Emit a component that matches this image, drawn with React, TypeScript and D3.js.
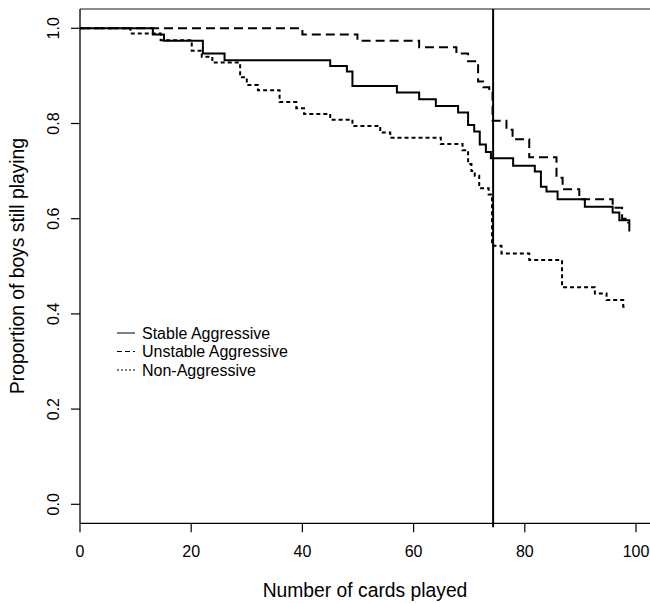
import { useEffect, useRef } from "react";
import * as d3 from "d3";

// Kaplan-Meier style curves
const stableTimes = [0, 13.1, 15.1, 22.1, 26.0, 45.0, 48.0, 49.0, 57.0, 61.0, 64.0, 68.0, 69.8, 70.9, 71.9, 73.0, 73.9, 77.9, 81.8, 82.9, 83.9, 85.9, 90.8, 95.8, 97.0, 98.8];
const stableSurv = [1.0, 0.987, 0.974, 0.947, 0.933, 0.921, 0.909, 0.879, 0.865, 0.851, 0.837, 0.823, 0.797, 0.783, 0.756, 0.740, 0.727, 0.711, 0.699, 0.667, 0.657, 0.641, 0.625, 0.613, 0.597, 0.573];

const unstableTimes = [0, 40.0, 49.9, 61.0, 67.7, 69.8, 71.6, 72.5, 73.6, 74.2, 76.7, 77.8, 80.8, 85.7, 86.8, 89.8, 95.8, 97.5, 98.6];
const unstableSurv = [1.0, 0.987, 0.974, 0.960, 0.947, 0.931, 0.888, 0.876, 0.867, 0.806, 0.787, 0.767, 0.729, 0.686, 0.662, 0.641, 0.623, 0.600, 0.590];

const nonTimes = [0, 9.1, 14.5, 20.1, 21.9, 23.8, 28.8, 30.0, 32.0, 35.9, 38.9, 40.3, 45.0, 49.0, 54.0, 55.8, 64.9, 68.8, 69.8, 70.4, 71.0, 71.8, 73.5, 74.1, 75.8, 80.8, 86.7, 92.6, 94.7, 97.7, 98.1];
const nonSurv = [1.0, 0.989, 0.975, 0.953, 0.940, 0.928, 0.897, 0.881, 0.870, 0.845, 0.832, 0.820, 0.808, 0.795, 0.781, 0.770, 0.757, 0.744, 0.715, 0.700, 0.690, 0.664, 0.651, 0.543, 0.527, 0.513, 0.456, 0.443, 0.429, 0.415, 0.415];

const groupNames = ["Stable Aggressive", "Unstable Aggressive", "Non-Aggressive"];
const xTicks = [0, 20, 40, 60, 80, 100];
const yTicks = [0, 0.2, 0.4, 0.6, 0.8, 1.0];
const cutoff = 74.3;

const App = () => {
  const svgRef = useRef<SVGSVGElement>(null);

  const width = 650;
  const height = 603;

  useEffect(() => {
    if (!svgRef.current) return;
    const svg = d3.select(svgRef.current);
    svg.selectAll("*").remove();

    const font = "Liberation Sans, Arial, Helvetica, sans-serif";
    const x = d3.scaleLinear().domain([0, 100]).range([80, 636]);
    const y = d3.scaleLinear().domain([0, 1]).range([504.3, 28.3]);
    const left = 80, top = 9, bottom = 523.3, right = 650;

    // frame
    svg.append("line").attr("x1", left).attr("x2", right).attr("y1", top).attr("y2", top)
      .attr("stroke", "#666").attr("stroke-width", 1.5);
    svg.append("line").attr("x1", left).attr("x2", right).attr("y1", bottom).attr("y2", bottom)
      .attr("stroke", "#000").attr("stroke-width", 1.3);
    svg.append("line").attr("x1", left).attr("x2", left).attr("y1", top).attr("y2", bottom)
      .attr("stroke", "#000").attr("stroke-width", 1.3);

    // x ticks
    xTicks.forEach((t) => {
      svg.append("line").attr("x1", x(t)).attr("x2", x(t)).attr("y1", bottom).attr("y2", bottom + 9)
        .attr("stroke", "#000").attr("stroke-width", 1.2);
      svg.append("text").attr("x", x(t)).attr("y", 557).attr("text-anchor", "middle")
        .attr("font-family", font).attr("font-size", 16).text(String(t));
    });

    // y ticks
    yTicks.forEach((t) => {
      svg.append("line").attr("x1", left - 9).attr("x2", left).attr("y1", y(t)).attr("y2", y(t))
        .attr("stroke", "#000").attr("stroke-width", 1.2);
      svg.append("text").attr("transform", `translate(59,${y(t)}) rotate(-90)`)
        .attr("text-anchor", "middle").attr("font-family", font).attr("font-size", 16)
        .text(t.toFixed(1));
    });

    // axis titles
    svg.append("text").attr("x", 365).attr("y", 597).attr("text-anchor", "middle")
      .attr("font-family", font).attr("font-size", 19.3).text("Number of cards played");
    svg.append("text").attr("transform", `translate(24,266) rotate(-90)`).attr("text-anchor", "middle")
      .attr("font-family", font).attr("font-size", 19.3).text("Proportion of boys still playing");

    // vertical reference line
    svg.append("line").attr("x1", x(cutoff)).attr("x2", x(cutoff)).attr("y1", top).attr("y2", bottom + 4)
      .attr("stroke", "#000").attr("stroke-width", 2);

    const line = d3.line<[number, number]>()
      .x((d) => x(d[0]))
      .y((d) => y(d[1]))
      .curve(d3.curveStepAfter);

    const series = [
      { times: stableTimes, surv: stableSurv, dash: null },
      { times: unstableTimes, surv: unstableSurv, dash: "9 5" },
      { times: nonTimes, surv: nonSurv, dash: "4 3" },
    ];

    series.forEach((s) => {
      const pts = s.times.map((t, i) => [t, s.surv[i]] as [number, number]);
      svg.append("path").attr("d", line(pts)).attr("fill", "none")
        .attr("stroke", "#000").attr("stroke-width", 2)
        .attr("stroke-dasharray", s.dash);
    });

    // legend
    const legendDash = [null, "5 3", "2 2"];
    groupNames.forEach((name, i) => {
      const ly = 333 + i * 18.5;
      svg.append("line").attr("x1", 117).attr("x2", 135).attr("y1", ly).attr("y2", ly)
        .attr("stroke", "#000").attr("stroke-width", 1).attr("stroke-dasharray", legendDash[i]);
      svg.append("text").attr("x", 142).attr("y", ly + 5.5).attr("font-family", font)
        .attr("font-size", 16).text(name);
    });
  }, []);

  return (
    <div style={{ position: "absolute", left: 0, top: 0, width: `${width}px`, height: `${height}px`, background: "#fff" }}>
      <svg ref={svgRef} width={width} height={height} viewBox={`0 0 ${width} ${height}`} />
    </div>
  );
};

export default App;
